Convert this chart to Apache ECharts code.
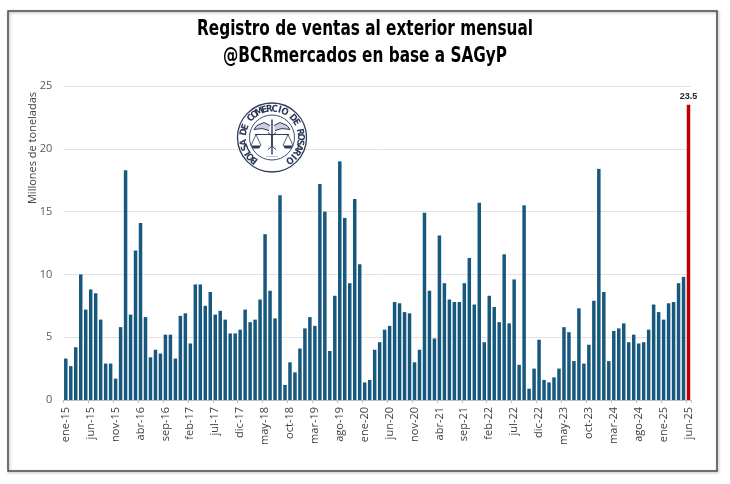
<!DOCTYPE html>
<html>
<head>
<meta charset="utf-8">
<script src="https://cdn.jsdelivr.net/npm/echarts@6/dist/echarts.min.js"></script>
<style>
html,body{margin:0;padding:0;background:#fff;}
#c{width:730px;height:484px;}
</style>
</head>
<body>
<div id="c"></div>
<script>
const monthNames = ['ene','feb','mar','abr','may','jun','jul','ago','sep','oct','nov','dic'];
const years = ['15','16','17','18','19','20','21','22','23','24','25'];
const lastMonthCount = 6;

const values = [
  3.3, 2.7, 4.2, 10.0, 7.2, 8.8, 8.5, 6.4, 2.9, 2.9, 1.7, 5.8,
  18.3, 6.8, 11.9, 14.1, 6.6, 3.4, 4.0, 3.7, 5.2, 5.2, 3.3, 6.7,
  6.9, 4.5, 9.2, 9.2, 7.5, 8.6, 6.8, 7.1, 6.4, 5.3, 5.3, 5.6,
  7.2, 6.2, 6.4, 8.0, 13.2, 8.7, 6.5, 16.3, 1.2, 3.0, 2.2, 4.1,
  5.7, 6.6, 5.9, 17.2, 15.0, 3.9, 8.3, 19.0, 14.5, 9.3, 16.0, 10.8,
  1.4, 1.6, 4.0, 4.6, 5.6, 5.9, 7.8, 7.7, 7.0, 6.9, 3.0, 4.0,
  14.9, 8.7, 4.9, 13.1, 9.3, 8.0, 7.8, 7.8, 9.3, 11.3, 7.6, 15.7,
  4.6, 8.3, 7.4, 6.2, 11.6, 6.1, 9.6, 2.8, 15.5, 0.9, 2.5, 4.8,
  1.6, 1.4, 1.8, 2.5, 5.8, 5.4, 3.1, 7.3, 2.9, 4.4, 7.9, 18.4,
  8.6, 3.1, 5.5, 5.7, 6.1, 4.6, 5.2, 4.5, 4.6, 5.6, 7.6, 7.0,
  6.4, 7.7, 7.8, 9.3, 9.8, 23.5
];

const titleLines = ['Registro de ventas al exterior mensual', '@BCRmercados en base a SAGyP'];
const yAxisTitle = 'Millones de toneladas';
const logoText = 'BOLSA DE COMERCIO DE ROSARIO';

const categories = [];
years.forEach((y, yi) => {
  const n = yi === years.length - 1 ? lastMonthCount : 12;
  for (let m = 0; m < n; m++) categories.push(monthNames[m] + '-' + y);
});

const BLUE = '#17587f';
const RED = '#c00000';
const last = values.length - 1;
const seriesData = values.map((v, i) => i === last
  ? { value: v, itemStyle: { color: RED }, label: { show: true } }
  : v);

// logo graphic
const cx = 272, cy = 137.5;
const logoColor = '#2d3b5a';
const logoEls = [
  { type: 'circle', shape: { cx: cx, cy: cy, r: 34.5 }, style: { fill: '#fff', stroke: logoColor, lineWidth: 1.3 }, z: 100 },
  { type: 'circle', shape: { cx: cx, cy: cy, r: 22.5 }, style: { fill: 'none', stroke: logoColor, lineWidth: 0.9 }, z: 101 }
];
const startDeg = 232, endDeg = -52;
const nChars = logoText.length;
for (let i = 0; i < nChars; i++) {
  const deg = startDeg + (endDeg - startDeg) * i / (nChars - 1);
  const th = deg * Math.PI / 180;
  const r = 28.4;
  logoEls.push({
    type: 'text', z: 102,
    x: cx + r * Math.cos(th), y: cy - r * Math.sin(th),
    rotation: th - Math.PI / 2,
    style: { text: logoText[i], fill: logoColor, font: 'bold 9.5px "DejaVu Sans Condensed", sans-serif', align: 'center', verticalAlign: 'middle' }
  });
}
// emblem: staff, wings, scales
logoEls.push(
  { type: 'line', z: 102, shape: { x1: cx, y1: cy - 18, x2: cx, y2: cy + 17 }, style: { stroke: logoColor, lineWidth: 1.4 } },
  { type: 'polyline', z: 102, shape: { points: [[cx - 2, cy - 12], [cx - 8, cy - 15], [cx - 15, cy - 12], [cx - 18, cy - 8], [cx - 10, cy - 9], [cx - 3, cy - 7]] }, style: { stroke: logoColor, lineWidth: 1, fill: '#c9cfdb' } },
  { type: 'polyline', z: 102, shape: { points: [[cx + 2, cy - 12], [cx + 8, cy - 15], [cx + 15, cy - 12], [cx + 18, cy - 8], [cx + 10, cy - 9], [cx + 3, cy - 7]] }, style: { stroke: logoColor, lineWidth: 1, fill: '#c9cfdb' } },
  { type: 'line', z: 102, shape: { x1: cx - 17, y1: cy - 3, x2: cx + 17, y2: cy - 3 }, style: { stroke: logoColor, lineWidth: 1.1 } },
  { type: 'polyline', z: 102, shape: { points: [[cx - 21, cy + 8], [cx - 16, cy - 3], [cx - 11, cy + 8]] }, style: { stroke: logoColor, lineWidth: 0.8, fill: 'none' } },
  { type: 'polyline', z: 102, shape: { points: [[cx + 11, cy + 8], [cx + 16, cy - 3], [cx + 21, cy + 8]] }, style: { stroke: logoColor, lineWidth: 0.8, fill: 'none' } },
  { type: 'polygon', z: 102, shape: { points: [[cx - 21, cy + 8], [cx - 11, cy + 8], [cx - 13, cy + 11], [cx - 19, cy + 11]] }, style: { fill: logoColor } },
  { type: 'polygon', z: 102, shape: { points: [[cx + 11, cy + 8], [cx + 21, cy + 8], [cx + 19, cy + 11], [cx + 13, cy + 11]] }, style: { fill: logoColor } },
  { type: 'bezierCurve', z: 102, shape: { x1: cx - 4, y1: cy - 5, cpx1: cx + 6, cpy1: cy + 1, cpx2: cx - 6, cpy2: cy + 6, x2: cx + 4, y2: cy + 12 }, style: { stroke: logoColor, lineWidth: 1, fill: 'none' } },
  { type: 'bezierCurve', z: 102, shape: { x1: cx + 4, y1: cy - 5, cpx1: cx - 6, cpy1: cy + 1, cpx2: cx + 6, cpy2: cy + 6, x2: cx - 4, y2: cy + 12 }, style: { stroke: logoColor, lineWidth: 1, fill: 'none' } },
  { type: 'line', z: 102, shape: { x1: cx - 6, y1: cy + 19, x2: cx + 6, y2: cy + 19 }, style: { stroke: '#8a93a8', lineWidth: 0.6 } }
);

const titleFont = 'bold 21px "Liberation Sans Narrow", "DejaVu Sans Condensed", sans-serif';
const titleEls = titleLines.map((t, i) => ({
  type: 'text', z: 60,
  x: 365, y: 30 + i * 27,
  scaleX: 0.81,
  style: { text: t, fill: '#000', font: titleFont, align: 'center', verticalAlign: 'middle' }
}));

const chart = echarts.init(document.getElementById('c'), null, { renderer: 'canvas' });
chart.setOption({
  backgroundColor: '#fff',
  animation: false,
  grid: { left: 63.3, right: 39, top: 86, bottom: 84, containLabel: false },
  xAxis: {
    type: 'category',
    data: categories,
    boundaryGap: true,
    axisLine: { show: true, lineStyle: { color: '#bfbfbf', width: 1 } },
    axisTick: { show: true, interval: 4, length: 3, lineStyle: { color: '#bfbfbf' } },
    axisLabel: {
      interval: 4, rotate: 90, margin: 7,
      fontSize: 11, color: '#404040',
      fontFamily: '"Open Sans", "Liberation Sans", sans-serif'
    }
  },
  yAxis: {
    type: 'value',
    min: 0, max: 25, interval: 5,
    axisLine: { show: false },
    axisTick: { show: false },
    axisLabel: { fontSize: 11, color: '#595959', margin: 11, fontFamily: '"Open Sans", "Liberation Sans", sans-serif' },
    splitLine: { lineStyle: { color: '#e3e3e3', width: 1 } }
  },
  series: [{
    type: 'bar',
    data: seriesData,
    barCategoryGap: '30%',
    itemStyle: { color: BLUE },
    label: {
      show: false, position: 'top', distance: 4,
      fontSize: 9, fontWeight: 'bold', color: '#262626',
      fontFamily: '"Liberation Sans", sans-serif'
    }
  }],
  graphic: [
    { type: 'rect', shape: { x: 8, y: 11, width: 709, height: 460 }, style: { fill: 'none', stroke: '#4a4a4a', lineWidth: 1.5, shadowBlur: 3, shadowColor: 'rgba(0,0,0,0.35)', shadowOffsetX: 1, shadowOffsetY: 1 }, z: 50 },
    { type: 'text', x: 33, y: 148, rotation: Math.PI / 2, style: { text: yAxisTitle, fill: '#404040', font: '11px "Open Sans", "Liberation Sans", sans-serif', align: 'center', verticalAlign: 'middle' }, z: 60 },
    ...titleEls,
    ...logoEls
  ]
});
</script>
</body>
</html>
